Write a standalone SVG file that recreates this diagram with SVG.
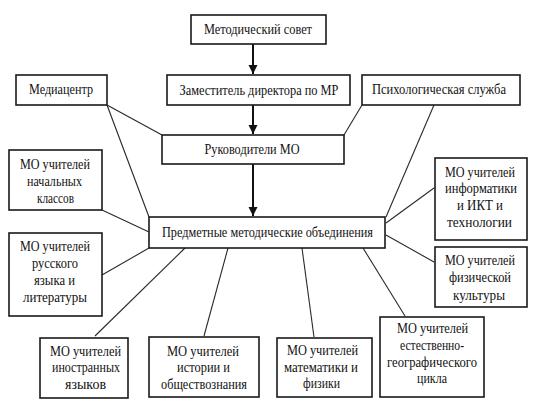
<svg xmlns="http://www.w3.org/2000/svg" width="535" height="402" viewBox="0 0 535 402">
<style>
rect{fill:#fff;stroke:#1a1a1a;stroke-width:1.6}
text{font-family:'Liberation Serif','Times New Roman',serif;font-size:15px;fill:#111;text-anchor:middle}
.s{font-size:14px}
.ln{stroke:#2a2a2a;stroke-width:1.1;fill:none}
.ar{stroke:#111;stroke-width:2;fill:none}
</style>
<defs>
<marker id="ah" viewBox="0 0 10 10" refX="10" refY="5" markerWidth="4.5" markerHeight="5" markerUnits="strokeWidth" orient="auto">
<path d="M0,0 L10,5 L0,10 z" fill="#111"/>
</marker>
</defs>
<rect x="0" y="0" width="535" height="402" style="fill:#fff;stroke:none"/>
<g id="connectors">
<line class="ar" x1="253" y1="44" x2="253" y2="74" marker-end="url(#ah)"/>
<line class="ar" x1="253" y1="105" x2="253" y2="134" marker-end="url(#ah)"/>
<line class="ar" x1="253" y1="164" x2="253" y2="216" marker-end="url(#ah)"/>
<line class="ln" x1="107" y1="105" x2="162" y2="135"/>
<line class="ln" x1="107" y1="105" x2="149" y2="217"/>
<line class="ln" x1="362" y1="105" x2="344" y2="135"/>
<line class="ln" x1="434" y1="105" x2="386" y2="217"/>
<line class="ln" x1="102" y1="210" x2="149" y2="232"/>
<line class="ln" x1="102" y1="275" x2="149" y2="248"/>
<line class="ln" x1="185" y1="248" x2="95" y2="336"/>
<line class="ln" x1="228" y1="248" x2="204" y2="336"/>
<line class="ln" x1="302" y1="248" x2="314" y2="337"/>
<line class="ln" x1="363" y1="248" x2="405" y2="316"/>
<line class="ln" x1="386" y1="223" x2="434" y2="188"/>
<line class="ln" x1="386" y1="235" x2="434" y2="262"/>
</g>
<g id="metsovet"><rect x="191" y="15" width="135" height="29"/><text x="258" y="34" textLength="108" lengthAdjust="spacingAndGlyphs">Методический совет</text></g>
<g id="zam"><rect x="167" y="75" width="183" height="30"/><text x="259" y="95" textLength="159" lengthAdjust="spacingAndGlyphs">Заместитель директора по МР</text></g>
<g id="media"><rect x="16" y="75" width="91" height="30"/><text x="61" y="94" textLength="64" lengthAdjust="spacingAndGlyphs">Медиацентр</text></g>
<g id="psy"><rect x="362" y="75" width="158" height="30"/><text x="439" y="94" textLength="134" lengthAdjust="spacingAndGlyphs">Психологическая служба</text></g>
<g id="ruk"><rect x="162" y="135" width="182" height="29"/><text x="252" y="154" textLength="95" lengthAdjust="spacingAndGlyphs">Руководители МО</text></g>
<g id="pmo"><rect x="149" y="217" width="236" height="31"/><text x="267.5" y="237" textLength="211" lengthAdjust="spacingAndGlyphs">Предметные методические объединения</text></g>
<g id="nach"><rect x="9" y="150" width="93" height="60"/>
<text class="s" x="55" y="169" textLength="70" lengthAdjust="spacingAndGlyphs">МО учителей</text>
<text class="s" x="54.5" y="186" textLength="55" lengthAdjust="spacingAndGlyphs">начальных</text>
<text class="s" x="55.5" y="203" textLength="37" lengthAdjust="spacingAndGlyphs">классов</text></g>
<g id="rus"><rect x="9" y="233" width="93" height="83"/>
<text class="s" x="55" y="251" textLength="70" lengthAdjust="spacingAndGlyphs">МО учителей</text>
<text class="s" x="55" y="268" textLength="46" lengthAdjust="spacingAndGlyphs">русского</text>
<text class="s" x="54.5" y="285" textLength="41" lengthAdjust="spacingAndGlyphs">языка и</text>
<text class="s" x="55" y="302" textLength="64" lengthAdjust="spacingAndGlyphs">литературы</text></g>
<g id="inostr"><rect x="40" y="338" width="88" height="60"/>
<text class="s" x="85.5" y="356" textLength="71" lengthAdjust="spacingAndGlyphs">МО учителей</text>
<text class="s" x="86" y="372" textLength="68" lengthAdjust="spacingAndGlyphs">иностранных</text>
<text class="s" x="85.5" y="389" textLength="41" lengthAdjust="spacingAndGlyphs">языков</text></g>
<g id="hist"><rect x="149" y="337" width="110" height="60"/>
<text class="s" x="203" y="356" textLength="72" lengthAdjust="spacingAndGlyphs">МО учителей</text>
<text class="s" x="203.5" y="372" textLength="53" lengthAdjust="spacingAndGlyphs">истории и</text>
<text class="s" x="204" y="389" textLength="86" lengthAdjust="spacingAndGlyphs">обществознания</text></g>
<g id="math"><rect x="277" y="338" width="95" height="59"/>
<text class="s" x="322.5" y="355" textLength="71" lengthAdjust="spacingAndGlyphs">МО учителей</text>
<text class="s" x="321" y="372" textLength="74" lengthAdjust="spacingAndGlyphs">математики и</text>
<text class="s" x="321.5" y="388" textLength="37" lengthAdjust="spacingAndGlyphs">физики</text></g>
<g id="estgeo"><rect x="380" y="317" width="104" height="80"/>
<text class="s" x="432.5" y="333" textLength="71" lengthAdjust="spacingAndGlyphs">МО учителей</text>
<text class="s" x="432" y="350" textLength="64" lengthAdjust="spacingAndGlyphs">естественно-</text>
<text class="s" x="432" y="367" textLength="90" lengthAdjust="spacingAndGlyphs">географического</text>
<text class="s" x="432" y="383" textLength="30" lengthAdjust="spacingAndGlyphs">цикла</text></g>
<g id="inf"><rect x="435" y="158" width="92" height="82"/>
<text class="s" x="480" y="177" textLength="70" lengthAdjust="spacingAndGlyphs">МО учителей</text>
<text class="s" x="481" y="193" textLength="72" lengthAdjust="spacingAndGlyphs">информатики</text>
<text class="s" x="480" y="210" textLength="46" lengthAdjust="spacingAndGlyphs">и ИКТ и</text>
<text class="s" x="479.5" y="227" textLength="65" lengthAdjust="spacingAndGlyphs">технологии</text></g>
<g id="fiz"><rect x="435" y="247" width="92" height="60"/>
<text class="s" x="480" y="265" textLength="70" lengthAdjust="spacingAndGlyphs">МО учителей</text>
<text class="s" x="480" y="282" textLength="62" lengthAdjust="spacingAndGlyphs">физической</text>
<text class="s" x="479" y="300" textLength="52" lengthAdjust="spacingAndGlyphs">культуры</text></g>
</svg>
